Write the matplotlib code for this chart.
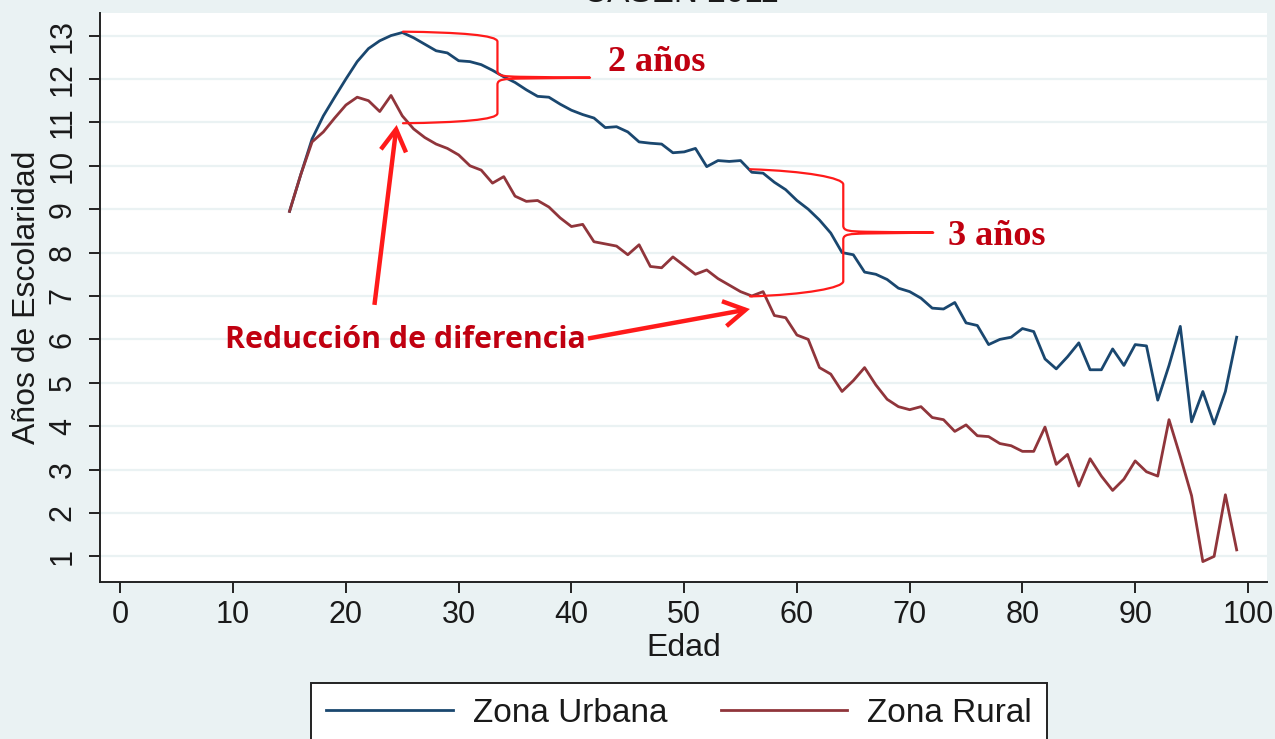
import matplotlib
matplotlib.use("Agg")
import matplotlib.pyplot as plt
from matplotlib.path import Path
from matplotlib.patches import PathPatch, FancyArrowPatch
from matplotlib.lines import Line2D

# ---------------- data ----------------
edad = list(range(15, 100))
zona_urbana = [
    8.95, 9.8, 10.62, 11.15, 11.58, 12.0, 12.4, 12.7, 12.88, 13.0,      # 15-24
    13.07, 12.95, 12.8, 12.65, 12.6, 12.42, 12.4, 12.33, 12.2, 12.05,   # 25-34
    11.92, 11.75, 11.6, 11.58, 11.42, 11.28, 11.18, 11.1, 10.88, 10.9,  # 35-44
    10.78, 10.55, 10.52, 10.5, 10.3, 10.32, 10.4, 9.98, 10.12, 10.1,    # 45-54
    10.12, 9.85, 9.83, 9.62, 9.45, 9.2, 9.0, 8.75, 8.45, 8.0,           # 55-64
    7.95, 7.55, 7.5, 7.38, 7.18, 7.1, 6.95, 6.72, 6.7, 6.85,            # 65-74
    6.38, 6.32, 5.88, 6.0, 6.05, 6.25, 6.18, 5.55, 5.32, 5.6,           # 75-84
    5.92, 5.3, 5.3, 5.78, 5.4, 5.88, 5.85, 4.6, 5.4, 6.3,               # 85-94
    4.1, 4.8, 4.05, 4.8, 6.05,                                          # 95-99
]
zona_rural = [
    8.95, 9.8, 10.55, 10.78, 11.1, 11.4, 11.58, 11.5, 11.25, 11.62,     # 15-24
    11.15, 10.85, 10.65, 10.5, 10.4, 10.25, 10.0, 9.9, 9.6, 9.75,       # 25-34
    9.3, 9.18, 9.2, 9.05, 8.8, 8.6, 8.65, 8.25, 8.2, 8.15,              # 35-44
    7.95, 8.18, 7.68, 7.65, 7.9, 7.7, 7.5, 7.6, 7.4, 7.25,              # 45-54
    7.1, 7.0, 7.1, 6.55, 6.5, 6.1, 6.0, 5.35, 5.2, 4.8,                 # 55-64
    5.05, 5.35, 4.95, 4.62, 4.45, 4.38, 4.45, 4.2, 4.15, 3.88,          # 65-74
    4.03, 3.78, 3.76, 3.6, 3.55, 3.42, 3.42, 3.98, 3.12, 3.35,          # 75-84
    2.62, 3.25, 2.85, 2.52, 2.78, 3.2, 2.95, 2.85, 4.15, 3.3,           # 85-94
    2.4, 0.88, 1.0, 2.42, 1.15,                                         # 95-99
]
x_ticks = list(range(0, 101, 10))
y_ticks = list(range(1, 14))
series_labels = ["Zona Urbana", "Zona Rural"]
titulo = "CASEN 2011"
x_label = "Edad"
y_label = "Años de Escolaridad"
nota_2 = "2 años"
nota_3 = "3 años"
nota_red = "Reducción de diferencia"

# ---------------- style ----------------
BG = "#eaf2f3"
C_URB = "#1a476f"
C_RUR = "#90353b"
RED = "#ff1a1a"
DARKRED = "#c00010"
plt.rcParams["font.family"] = ["Liberation Sans", "DejaVu Sans"]

W, H = 1275, 739
fig = plt.figure(figsize=(W / 100, H / 100), dpi=100, facecolor=BG)
ax = fig.add_axes([100 / W, 157 / H, 1167 / W, 569 / H])
ax.set_facecolor("white")

ax.plot(edad, zona_urbana, color=C_URB, lw=2.0, label=series_labels[0], zorder=3)
ax.plot(edad, zona_rural, color=C_RUR, lw=2.0, label=series_labels[1], zorder=3)

ax.set_xlim(-1.81, 101.69)
ax.set_ylim(0.41, 13.52)
ax.set_xticks(x_ticks)
ax.set_yticks(y_ticks)
ax.set_yticklabels([str(v) for v in y_ticks], rotation=90, va="center")
ax.grid(axis="y", color=BG, lw=1.6, zorder=0)
ax.grid(axis="x", visible=False)

for s in ["top", "right"]:
    ax.spines[s].set_visible(False)
for s in ["left", "bottom"]:
    ax.spines[s].set_color("#222222")
    ax.spines[s].set_linewidth(1.4)
ax.tick_params(axis="both", direction="out", length=8, width=1.4,
               color="#222222", labelsize=22, labelcolor="#1a1a1a")
ax.tick_params(axis="x", pad=5)
ax.tick_params(axis="y", pad=8)

ax.set_xlabel(x_label, fontsize=23, color="#1a1a1a")
ax.set_ylabel(y_label, fontsize=23, color="#1a1a1a")
ax.xaxis.set_label_coords(0.5, -0.09)
ax.yaxis.set_label_coords(-0.05, 0.5)

fig.text(681 / W, 1 - 2.5 / H, titulo, ha="center", va="baseline",
         fontsize=24, color="#1a1a1a")


# ---------------- annotations ----------------
def brace(xl, xv, xt, yt, ym, yb, sag, dy=0.15, tx=2.0, ty=0.16):
    verts = [
        (xl, yt),
        (xl + 0.6 * (xv - xl), yt - sag * 0.2), (xv, yt - sag), (xv, yt - sag - dy),
        (xv, ym + ty),
        (xv, ym + ty * 0.2), (xv + tx * 0.3, ym + 0.03), (xv + tx, ym + 0.02),
        (xt, ym),
        (xv + tx, ym - 0.02),
        (xv + tx * 0.3, ym - 0.03), (xv, ym - ty * 0.2), (xv, ym - ty),
        (xv, yb + sag + dy),
        (xv, yb + sag), (xl + 0.6 * (xv - xl), yb + sag * 0.2), (xl, yb),
    ]
    codes = [Path.MOVETO,
             Path.CURVE4, Path.CURVE4, Path.CURVE4,
             Path.LINETO,
             Path.CURVE4, Path.CURVE4, Path.CURVE4,
             Path.LINETO,
             Path.LINETO,
             Path.CURVE4, Path.CURVE4, Path.CURVE4,
             Path.LINETO,
             Path.CURVE4, Path.CURVE4, Path.CURVE4]
    ax.add_patch(PathPatch(Path(verts, codes), fill=False, edgecolor=RED,
                           lw=1.6, zorder=4, capstyle="round", joinstyle="round"))


brace(25.06, 33.44, 41.65, 13.09, 12.03, 10.98, sag=0.08)
brace(55.84, 64.11, 72.09, 9.92, 8.46, 6.99, sag=0.2)

serif = ["Liberation Serif", "DejaVu Serif"]
ax.text(43.27, 12.19, nota_2, ha="left", va="baseline", fontsize=26,
        fontweight="bold", family=serif, color=DARKRED, zorder=5)
ax.text(73.42, 8.18, nota_3, ha="left", va="baseline", fontsize=26,
        fontweight="bold", family=serif, color=DARKRED, zorder=5)
ax.text(9.28, 5.80, nota_red, ha="left", va="baseline", fontsize=21.8,
        fontweight="bold", family=["Open Sans", "DejaVu Sans"],
        color=DARKRED, zorder=5)

for (x0, y0), (x1, y1) in [((22.53, 6.795), (24.50, 10.94)),
                           ((41.47, 6.02), (55.83, 6.70))]:
    ax.add_patch(FancyArrowPatch((x0, y0), (x1, y1),
                                 arrowstyle="->,head_length=1.2,head_width=0.7",
                                 mutation_scale=13, color=RED, lw=3.2,
                                 shrinkA=0, shrinkB=0, zorder=5,
                                 joinstyle="miter", capstyle="butt"))

# ---------------- legend ----------------
handles = [Line2D([], [], color=C_URB, lw=2.0), Line2D([], [], color=C_RUR, lw=2.0)]
leg = fig.legend(handles, series_labels, loc="upper left",
                 bbox_to_anchor=(311 / W, 1 - 683 / H), ncol=2, fontsize=24,
                 frameon=True, fancybox=False, handlelength=3.8,
                 handletextpad=0.6, columnspacing=1.6, borderpad=0.45,
                 borderaxespad=0)
leg.get_frame().set_edgecolor("#222222")
leg.get_frame().set_linewidth(1.4)
leg.get_frame().set_facecolor("white")
leg.get_frame().set_alpha(1)
for t in leg.get_texts():
    t.set_color("#1a1a1a")

fig.savefig("out.png", dpi=100, facecolor=BG)
